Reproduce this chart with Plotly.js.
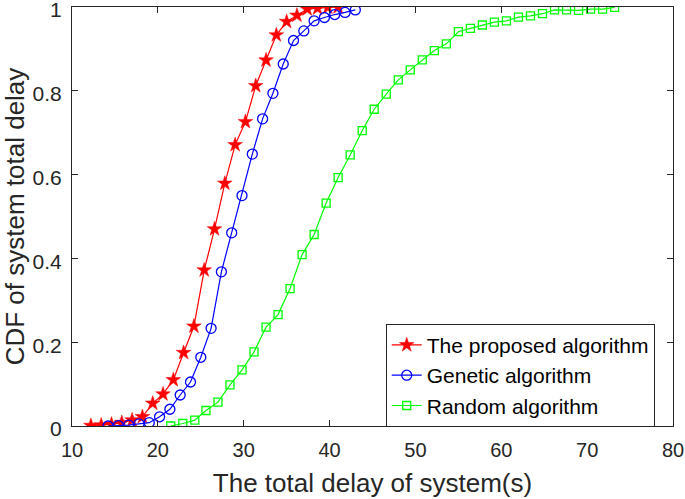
<!DOCTYPE html>
<html>
<head>
<meta charset="utf-8">
<script src="https://cdn.plot.ly/plotly-3.0.1.min.js"></script>
<style>html,body{margin:0;padding:0;background:#fff;}#chart{width:685px;height:499px;}</style>
</head>
<body>
<div id="chart"></div>
<script>
const proposedX = [12.2,13.4,14.6,15.8,17.0,18.2,19.4,20.6,21.8,23.0,24.2,25.4,26.6,27.8,29.0,30.2,31.4,32.6,33.8,35.0,36.2,37.4,38.6,39.8,41.0];
const proposedY = [0.001,0.002,0.004,0.008,0.014,0.022,0.054,0.076,0.110,0.175,0.238,0.372,0.470,0.579,0.671,0.726,0.812,0.873,0.933,0.965,0.980,0.995,0.997,0.999,1.000];

const geneticX = [14.2,15.4,16.6,17.8,19.0,20.2,21.4,22.6,23.8,25.0,26.2,27.4,28.6,29.8,31.0,32.2,33.4,34.6,35.8,37.0,38.2,39.4,40.6,41.8,43.0];
const geneticY = [0.000,0.001,0.002,0.005,0.008,0.022,0.040,0.074,0.105,0.164,0.233,0.368,0.461,0.550,0.649,0.733,0.794,0.864,0.920,0.943,0.967,0.975,0.982,0.987,0.993];

const randomX = [21.5,22.9,24.3,25.6,27.0,28.4,29.8,31.2,32.6,34.0,35.4,36.8,38.2,39.6,41.0,42.4,43.8,45.2,46.6,48.0,49.4,50.8,52.2,53.6,55.0,56.4,57.8,59.2,60.6,62.0,63.4,64.8,66.2,67.6,69.0,70.4,71.8,73.2];
const randomY = [0.000,0.006,0.014,0.037,0.057,0.098,0.134,0.177,0.236,0.266,0.328,0.409,0.457,0.532,0.593,0.647,0.705,0.756,0.792,0.826,0.850,0.874,0.896,0.912,0.941,0.949,0.957,0.964,0.967,0.976,0.979,0.984,0.993,0.993,0.992,0.995,0.995,0.999];

const xTicks = [10,20,30,40,50,60,70,80];
const yTicks = [0,0.2,0.4,0.6,0.8,1];
const yTickText = ['0','0.2','0.4','0.6','0.8','1'];

const names = ['The proposed algorithm','Genetic algorithm','Random algorithm'];

const traces = [
  {x: proposedX, y: proposedY, name: names[0], mode: 'lines+markers', type: 'scatter',
   line: {color: '#ff0000', width: 1.2},
   marker: {symbol: 'star', size: 11, color: '#ff0000', line: {color: '#ff0000', width: 0.5}}},
  {x: geneticX, y: geneticY, name: names[1], mode: 'lines+markers', type: 'scatter',
   line: {color: '#0000ff', width: 1.2},
   marker: {symbol: 'circle-open', size: 10, color: '#0000ff', line: {color: '#0000ff', width: 1.3}}},
  {x: randomX, y: randomY, name: names[2], mode: 'lines+markers', type: 'scatter',
   line: {color: '#00ff00', width: 1.2},
   marker: {symbol: 'square-open', size: 8, color: '#00ff00', line: {color: '#00ff00', width: 1.3}}}
];

const layout = {
  width: 685, height: 499,
  margin: {l: 72, r: 12, t: 7, b: 73},
  paper_bgcolor: '#ffffff', plot_bgcolor: '#ffffff',
  font: {family: 'Liberation Sans, Arial, sans-serif', color: '#262626', size: 20},
  showlegend: true,
  legend: {x: 0.522, y: 0.244, xanchor: 'left', yanchor: 'top',
    bgcolor: '#ffffff', bordercolor: '#262626', borderwidth: 1,
    font: {size: 21, color: '#000000'}, tracegroupgap: 0, itemwidth: 30},
  xaxis: {
    range: [10, 80], tickvals: xTicks, ticks: 'inside', ticklen: 6, tickcolor: '#262626',
    showline: true, linecolor: '#262626', linewidth: 1, mirror: 'ticks',
    showgrid: false, zeroline: false, ticklabelstandoff: 6, ticklabeloverflow: 'allow',
    tickfont: {size: 20, color: '#262626'},
    title: {text: 'The total delay of system(s)', font: {size: 26, color: '#262626'}, standoff: 13}
  },
  yaxis: {
    range: [0, 1], tickvals: yTicks, ticktext: yTickText, ticks: 'inside', ticklen: 6, tickcolor: '#262626',
    showline: true, linecolor: '#262626', linewidth: 1, mirror: 'ticks',
    showgrid: false, zeroline: false, ticklabelstandoff: 5, ticklabeloverflow: 'allow',
    ticklabelshift: 3,
    tickfont: {size: 21, color: '#262626'},
    title: {text: 'CDF of system total delay', font: {size: 26, color: '#262626'}, standoff: 6}
  }
};

Plotly.newPlot('chart', traces, layout, {displayModeBar: false, staticPlot: true});
</script>
</body>
</html>
